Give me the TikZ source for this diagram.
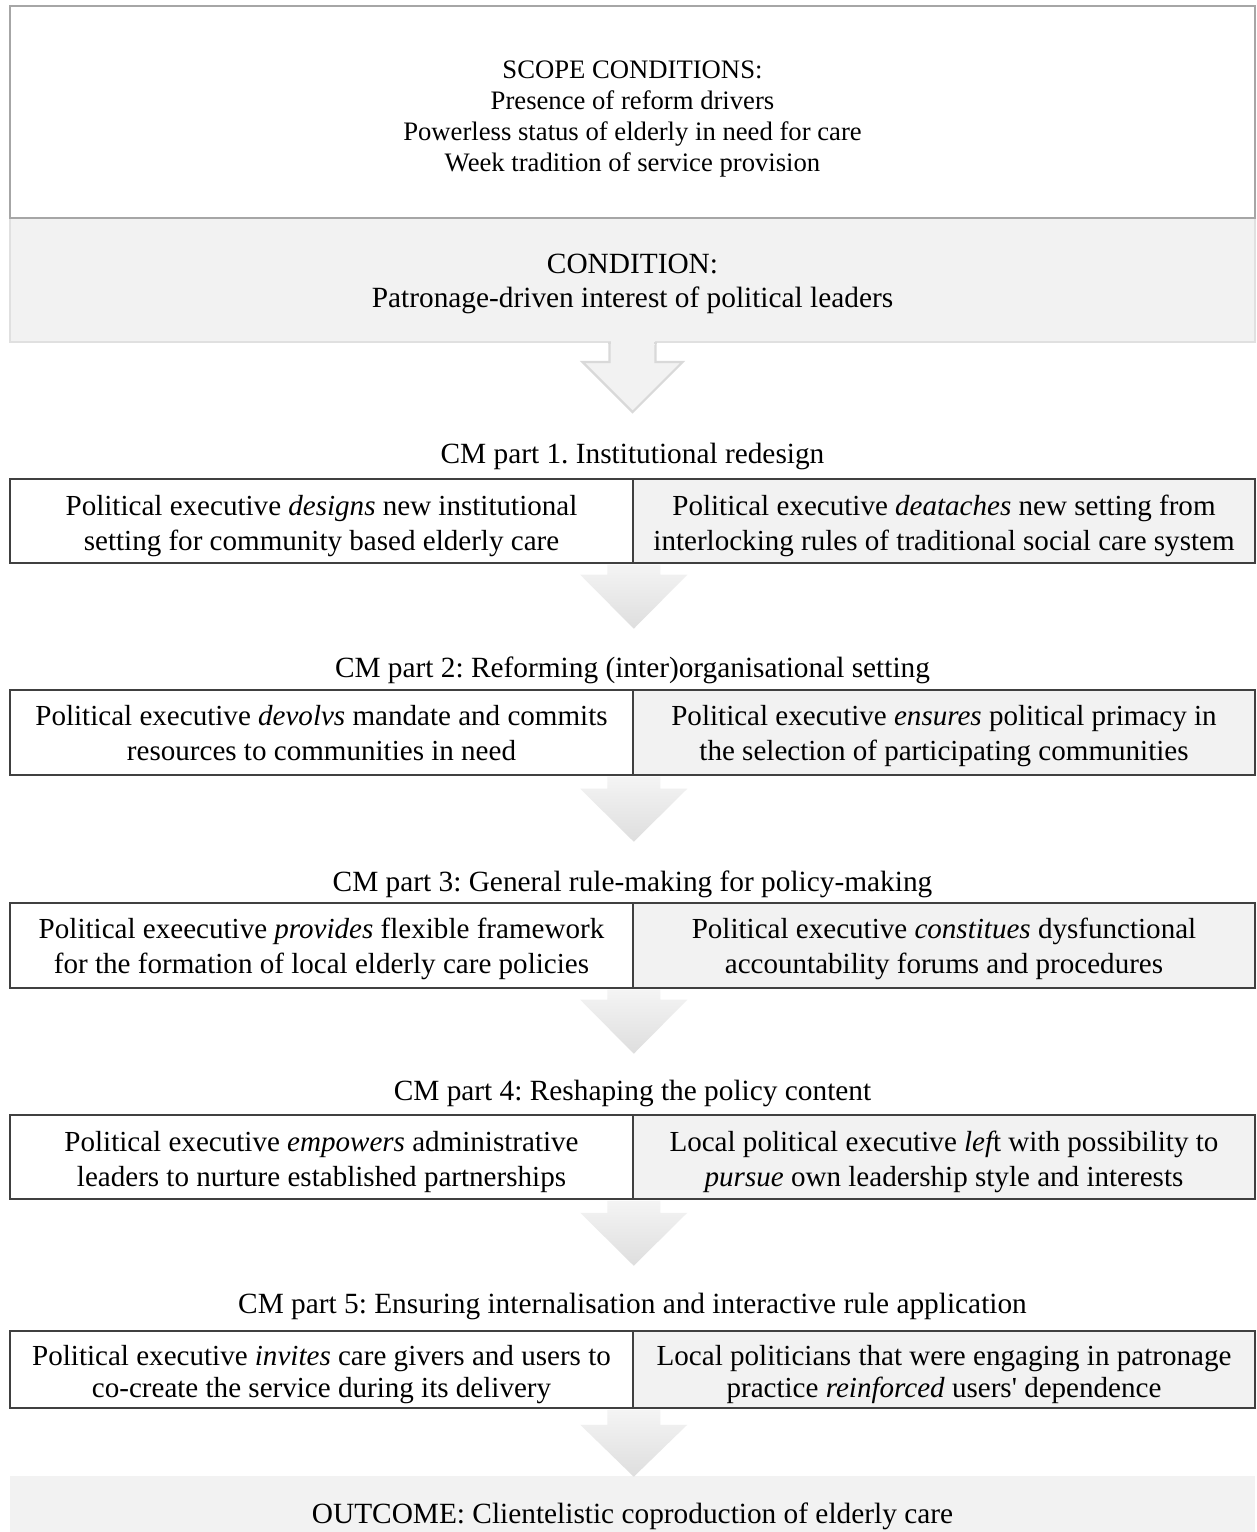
\documentclass[tikz,border=0pt]{standalone}
\usepackage{fontspec}
\setmainfont{Liberation Serif}[Ligatures=TeXOff]
\usetikzlibrary{calc}
\definecolor{boxgray}{HTML}{F2F2F2}
\definecolor{scopeline}{HTML}{A6A6A6}
\definecolor{condline}{HTML}{E0E0E0}
\definecolor{cmline}{HTML}{404040}
\definecolor{arrtop}{HTML}{F4F4F4}
\definecolor{arrbot}{HTML}{DEDEDE}
\definecolor{arrline}{HTML}{D9D9D9}
\tikzset{
  cmbox/.style={inner sep=0pt, draw=cmline, line width=1.4pt, minimum width=467pt},
  lbox/.style={cmbox, fill=white},
  rbox/.style={cmbox, fill=boxgray},
  cmtext/.style={inner sep=0pt, align=center, font=\fontsize{21.8}{26.25}\selectfont,
     execute at begin node=\strut, execute at end node=\strut},
  cmtextsmall/.style={cmtext, font=\fontsize{21.8}{24.2}\selectfont},
  cmlabel/.style={inner sep=0pt, font=\fontsize{22}{26}\selectfont},
  gradarrow/.style={top color=arrtop, bottom color=arrbot, draw=none},
  outlinearrow/.style={fill=boxgray, draw=arrline, line width=1.6pt, line join=miter}
}
% #1 anchor coordinate, #2 head start offset, #3 tip offset, #4 shaft half width, #5 head half width, #6 style
\newcommand\blockarrowdraw[6]{%
  \path[#6] ($(#1)+(-#4,0)$) -- ($(#1)+(-#4,#2)$) -- ($(#1)+(-#5,#2)$) --
    ($(#1)+(0,#3)$) -- ($(#1)+(#5,#2)$) -- ($(#1)+(#4,#2)$) -- ($(#1)+(#4,0)$) -- cycle;}
\frenchspacing
\begin{document}
\begin{tikzpicture}[x=0.75pt,y=-0.75pt]
\useasboundingbox[fill=white] (0,0) rectangle (1257,1532);

% first arrow (behind condition box)
\coordinate (a1) at (632.5,342);
\blockarrowdraw{a1}{20}{70}{23}{50}{outlinearrow}

% scope and condition
\node[minimum width=933.75pt, minimum height=93pt, inner sep=0pt, fill=boxgray, draw=condline, line width=1pt] (cond) at (632.5,280) {};
\node[inner sep=0pt, align=center, font=\fontsize{22}{25.5}\selectfont] (condtxt) at ($(cond.center)+(0,3.5)$)
  {CONDITION:\\Patronage-driven interest of political leaders};
\node[minimum width=933.75pt, minimum height=159pt, inner sep=0pt, fill=white, draw=scopeline, line width=1.8pt] (scope) at (632.5,112) {};
\node[inner sep=0pt, align=center, font=\fontsize{20}{23.25}\selectfont] (scopetxt) at ($(scope.center)+(0,7)$)
  {SCOPE CONDITIONS:\\Presence of reform drivers\\Powerless status of elderly in need for care\\Week tradition of service provision};
\fill[boxgray] ($(a1)+(-22,-1.5)$) rectangle ($(a1)+(22,3)$);
\draw[draw=arrline, line width=1.6pt] ($(a1)+(-23,-0.5)$) -- ++(0,2);
\draw[draw=arrline, line width=1.6pt] ($(a1)+(23,-0.5)$) -- ++(0,2);

% CM part 1
\node[cmlabel] (lab1) at (632.5,456) {CM part 1. Institutional redesign};
\node[lbox, minimum height=63pt] (l1) at (321.5,521) {};
\node[rbox, minimum height=63pt] (r1) at (944,521) {};
\node[cmtext] (l1t) at ($(l1.center)+(0,7)$) {Political executive \textit{designs} new institutional\\setting for community based elderly care};
\node[cmtext] (r1t) at ($(r1.center)+(0,7)$) {Political executive \textit{deataches} new setting from\\interlocking rules of traditional social care system};

% CM part 2
\node[cmlabel] (lab2) at (632.5,670) {CM part 2: Reforming (inter)organisational setting};
\node[lbox, minimum height=63.75pt] (l2) at (321.5,732.5) {};
\node[rbox, minimum height=63.75pt] (r2) at (944,732.5) {};
\node[cmtext] (l2t) at ($(l2.center)+(0,6)$) {Political executive \textit{devolvs} mandate and commits\\resources to communities in need};
\node[cmtext] (r2t) at ($(r2.center)+(0,6)$) {Political executive \textit{ensures} political primacy in\\the selection of participating communities};

% CM part 3
\node[cmlabel] (lab3) at (632.5,884) {CM part 3: General rule-making for policy-making};
\node[lbox, minimum height=63.75pt] (l3) at (321.5,945.5) {};
\node[rbox, minimum height=63.75pt] (r3) at (944,945.5) {};
\node[cmtext] (l3t) at ($(l3.center)+(0,6)$) {Political exeecutive \textit{provides} flexible framework\\for the formation of local elderly care policies};
\node[cmtext] (r3t) at ($(r3.center)+(0,6)$) {Political executive \textit{constitues} dysfunctional\\accountability forums and procedures};

% CM part 4
\node[cmlabel] (lab4) at (632.5,1093) {CM part 4: Reshaping the policy content};
\node[lbox, minimum height=63pt] (l4) at (321.5,1157) {};
\node[rbox, minimum height=63pt] (r4) at (944,1157) {};
\node[cmtext] (l4t) at ($(l4.center)+(0,7)$) {Political executive \textit{empowers} administrative\\leaders to nurture established partnerships};
\node[cmtext] (r4t) at ($(r4.center)+(0,7)$) {Local political executive {\itshape lef}t with possibility to\\\textit{pursue} own leadership style and interests};

% CM part 5
\node[cmlabel] (lab5) at (632.5,1306) {CM part 5: Ensuring internalisation and interactive rule application};
\node[lbox, minimum height=57.75pt] (l5) at (321.5,1369.5) {};
\node[rbox, minimum height=57.75pt] (r5) at (944,1369.5) {};
\node[cmtextsmall] (l5t) at ($(l5.center)+(0,7)$) {Political executive \textit{invites} care givers and users to\\co-create the service during its delivery};
\node[cmtextsmall] (r5t) at ($(r5.center)+(0,7)$) {Local politicians that were engaging in patronage\\practice \textit{reinforced} users' dependence};

% outcome
\node[minimum width=933.75pt, minimum height=42pt, inner sep=0pt, fill=boxgray] (out) at (632.5,1504) {};
\node[cmlabel] (outtxt) at (632.5,1516) {OUTCOME: Clientelistic coproduction of elderly care};

% gradient arrows between parts
\coordinate (a2) at ($(l1.south east)+(0,0.8)$);
\blockarrowdraw{a2}{10}{64}{26.5}{53.5}{gradarrow}
\coordinate (a3) at ($(l2.south east)+(0,0.8)$);
\blockarrowdraw{a3}{12}{65}{26.5}{53.5}{gradarrow}
\coordinate (a4) at ($(l3.south east)+(0,0.8)$);
\blockarrowdraw{a4}{10}{64}{26.5}{53.5}{gradarrow}
\coordinate (a5) at ($(l4.south east)+(0,0.8)$);
\blockarrowdraw{a5}{12}{65}{26.5}{53.5}{gradarrow}
\coordinate (a6) at ($(l5.south east)+(0,0.8)$);
\blockarrowdraw{a6}{15}{67}{26.5}{53.5}{gradarrow}
\end{tikzpicture}
\end{document}
